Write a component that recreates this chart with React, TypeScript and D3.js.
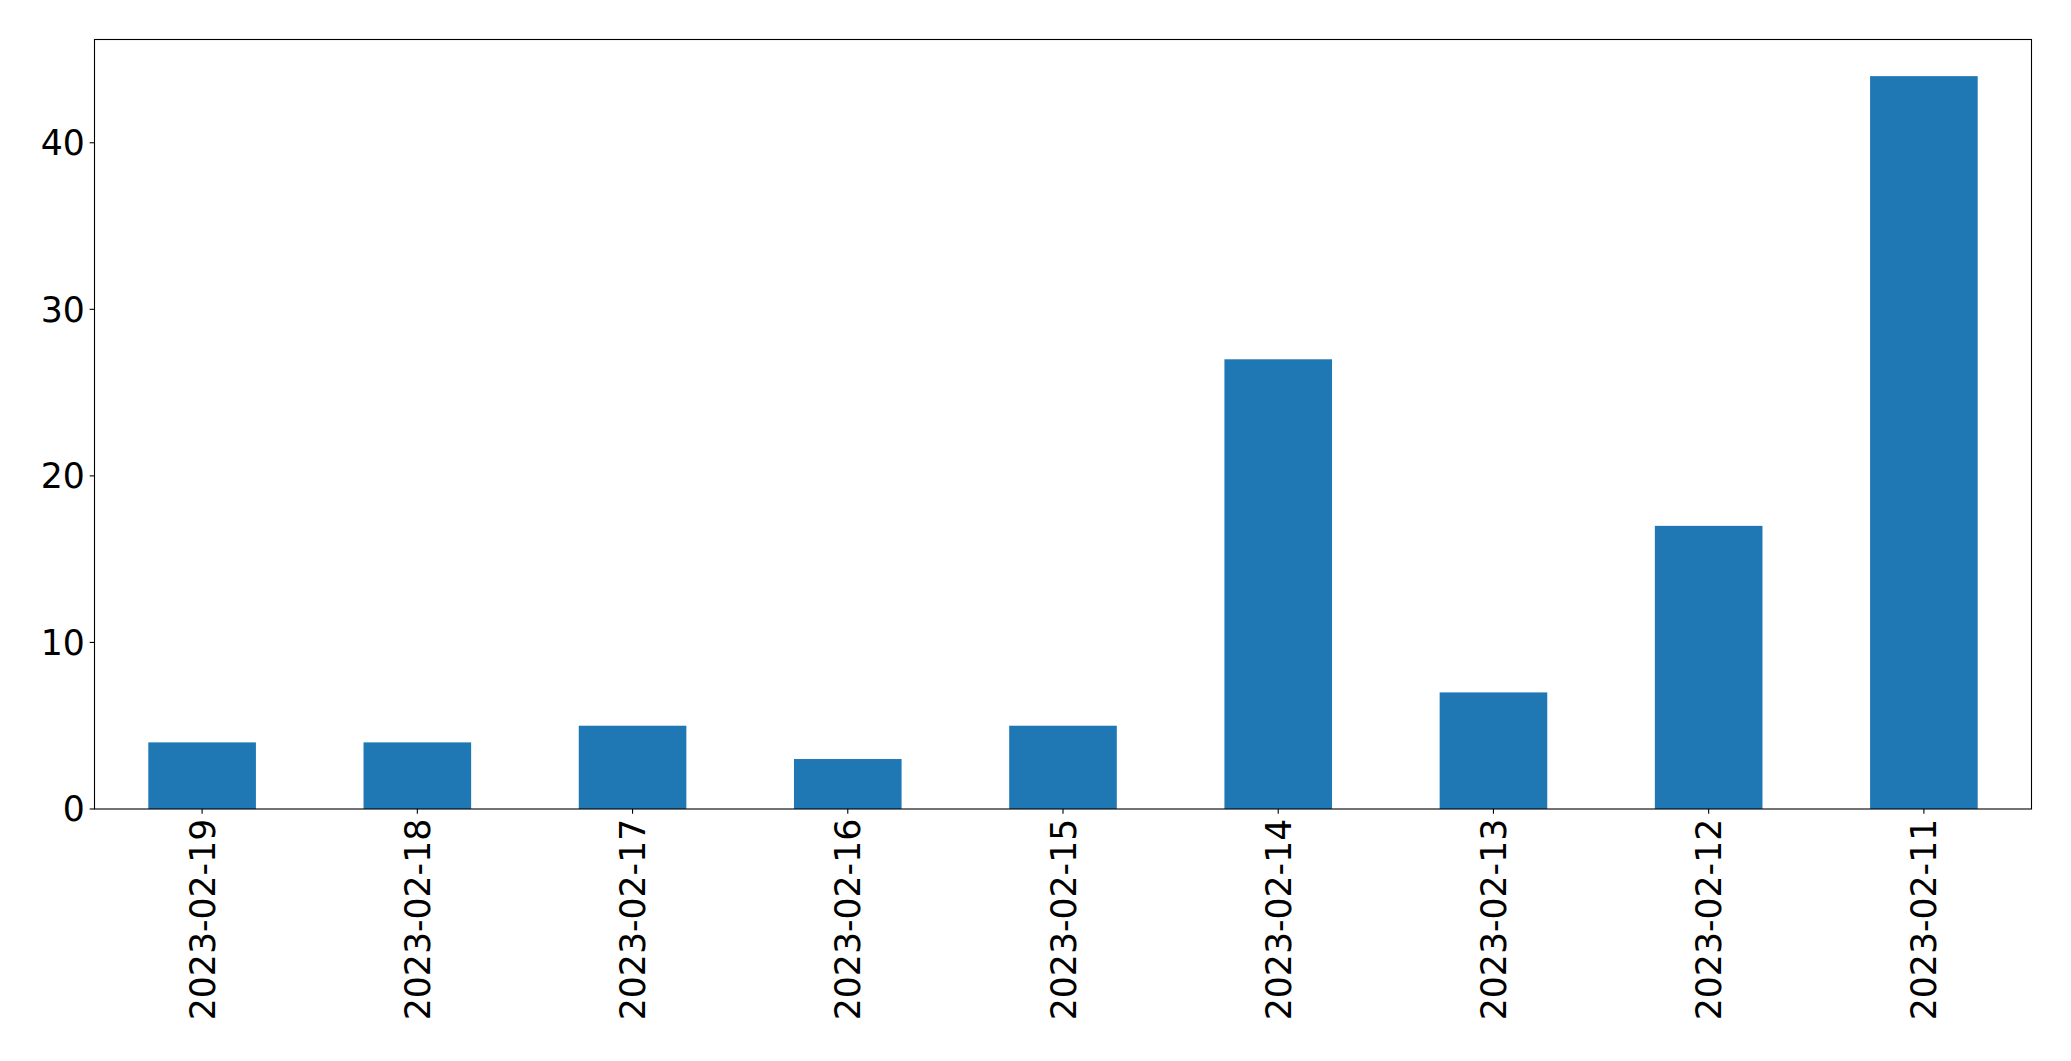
import React from "react";
import * as d3 from "d3";

const categories = ["2023-02-19", "2023-02-18", "2023-02-17", "2023-02-16", "2023-02-15", "2023-02-14", "2023-02-13", "2023-02-12", "2023-02-11"];
const values = [4, 4, 5, 3, 5, 27, 7, 17, 44];
const yTicks = [0, 10, 20, 30, 40];

const W = 2071, H = 1061;
const L = 94.5, R = 2031.5, T = 39.5, B = 809;
const FS = 34.7;
const TICK = 4.86;

export default function App() {
  const x = d3.scaleLinear().domain([-0.5, categories.length - 0.5]).range([L, R]);
  const y = d3.scaleLinear().domain([0, d3.max(values)! * 1.05]).range([B, T]);
  const bw = x(0.25) - x(-0.25);
  return (
    <svg width={W} height={H} style={{ position: "absolute", left: 0, top: 0, background: "#fff" }} fontFamily="DejaVu Sans">
      {values.map((v, i) => (
        <rect key={i} x={x(i) - bw / 2} y={y(v)} width={bw} height={y(0) - y(v)} fill="#1f77b4" />
      ))}
      <rect x={L} y={T} width={R - L} height={B - T} fill="none" stroke="#000" strokeWidth={1.1} />
      {yTicks.map((t) => (
        <g key={t}>
          <line x1={L - TICK} x2={L} y1={y(t)} y2={y(t)} stroke="#000" strokeWidth={1.1} />
          <text x={L - TICK - 4.86} y={y(t)} dy="0.36em" textAnchor="end" fontSize={FS} fill="#000">{t}</text>
        </g>
      ))}
      {categories.map((c, i) => (
        <g key={c}>
          <line x1={x(i)} x2={x(i)} y1={B} y2={B + TICK} stroke="#000" strokeWidth={1.1} />
          <text transform={`translate(${x(i)},${B + TICK + 4.86}) rotate(-90)`} dy="0.36em" textAnchor="end" fontSize={FS} fill="#000">{c}</text>
        </g>
      ))}
    </svg>
  );
}
